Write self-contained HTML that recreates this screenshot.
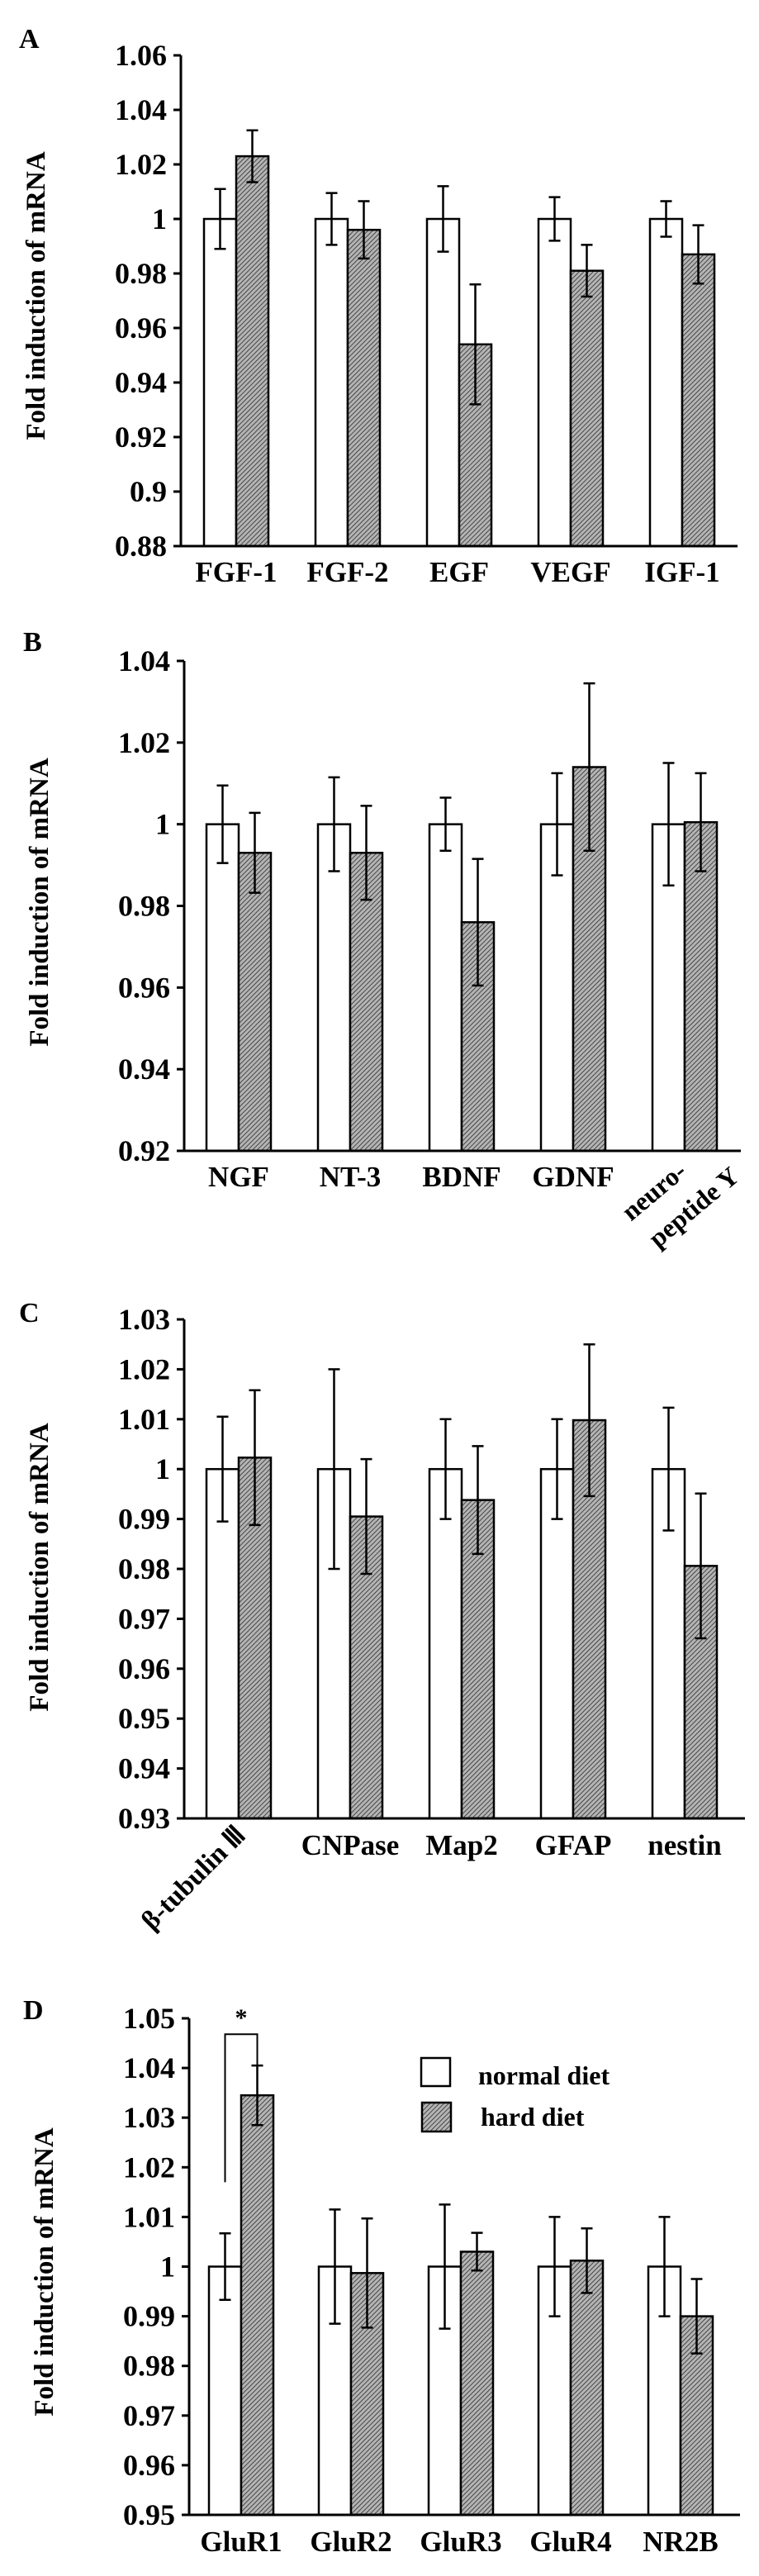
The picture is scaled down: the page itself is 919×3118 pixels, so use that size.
<!DOCTYPE html>
<html><head><meta charset="utf-8">
<style>
html,body{margin:0;padding:0;background:#fff;}
svg{display:block;}
text{font-family:"Liberation Serif",serif;font-weight:bold;fill:#000;}
</style></head>
<body>
<svg id="fig" width="919" height="3118" viewBox="0 0 919 3118" xmlns="http://www.w3.org/2000/svg">
<defs>
<pattern id="hatch" width="4" height="4" patternUnits="userSpaceOnUse" patternTransform="rotate(45)">
<rect width="4" height="4" fill="#b4b4b4"/>
<line x1="0" y1="0" x2="0" y2="4" stroke="#333" stroke-width="1.7"/>
</pattern>
</defs>
</svg>
<script>
// Panel A
const catsA = ["FGF-1","FGF-2","EGF","VEGF","IGF-1"];
const normA = [1,1,1,1,1];
const normErrA = [0.011,0.0095,0.012,0.008,0.0065];
const hardA = [1.023,0.996,0.954,0.981,0.987];
const hardErrA = [0.0095,0.0105,0.022,0.0095,0.0107];
const ticksA = ["0.88","0.9","0.92","0.94","0.96","0.98","1","1.02","1.04","1.06"];
// Panel B
const catsB = ["NGF","NT-3","BDNF","GDNF","neuro-peptide Y"];
const normB = [1,1,1,1,1];
const normErrB = [0.0095,0.0115,0.0065,0.0125,0.015];
const hardB = [0.993,0.993,0.976,1.014,1.0005];
const hardErrB = [0.0098,0.0115,0.0155,0.0205,0.012];
const ticksB = ["0.92","0.94","0.96","0.98","1","1.02","1.04"];
// Panel C
const catsC = ["β-tubulin Ⅲ","CNPase","Map2","GFAP","nestin"];
const normC = [1,1,1,1,1];
const normErrC = [0.0105,0.02,0.01,0.01,0.0123];
const hardC = [1.0023,0.9905,0.9938,1.0098,0.9806];
const hardErrC = [0.0135,0.0115,0.0108,0.0152,0.0145];
const ticksC = ["0.93","0.94","0.95","0.96","0.97","0.98","0.99","1","1.01","1.02","1.03"];
// Panel D
const catsD = ["GluR1","GluR2","GluR3","GluR4","NR2B"];
const normD = [1,1,1,1,1];
const normErrD = [0.0067,0.0115,0.0125,0.01,0.01];
const hardD = [1.0345,0.9987,1.003,1.0012,0.990];
const hardErrD = [0.006,0.011,0.0038,0.0065,0.0075];
const ticksD = ["0.95","0.96","0.97","0.98","0.99","1","1.01","1.02","1.03","1.04","1.05"];

const NS = "http://www.w3.org/2000/svg";
const svg = document.getElementById("fig");
function mk(tag, attrs, parent){
  const e = document.createElementNS(NS, tag);
  for (const k in attrs) e.setAttribute(k, attrs[k]);
  (parent||svg).appendChild(e);
  return e;
}

function panel(cfg){
  const g = mk("g", {});
  
  
  const tmin = parseFloat(cfg.ticks[0]), tmax = parseFloat(cfg.ticks[cfg.ticks.length-1]);
  const yScale = v => cfg.yBot - (v - tmin) / (tmax - tmin) * (cfg.yBot - cfg.yTop);
  const xScale = i => cfg.ax + cfg.off + i * cfg.step;
  const lt = mk("text", {x: cfg.lx, y: cfg.ly, "font-size": 34}, g);
  lt.textContent = cfg.id;
  
  
  const yt = mk("text", {x: 0, y: 0, "font-size": 33, "text-anchor": "middle",
    transform: "translate(" + (cfg.ax - 165) + "," + cfg.ytc + ") rotate(-90)"}, g);
  yt.textContent = "Fold induction of mRNA";
  
  
  const ya = mk("line", {x1: cfg.ax, y1: cfg.yTop, x2: cfg.ax, y2: cfg.yBot, stroke: "#000", "stroke-width": 3}, g);
  
  
  cfg.ticks.forEach(t => {
    const y = yScale(parseFloat(t));
    const tk = mk("line", {x1: cfg.ax - 9, y1: y, x2: cfg.ax, y2: y, stroke: "#000", "stroke-width": 3}, g);
    
    
    const tl = mk("text", {x: cfg.ax - 17, y: y + 12, "font-size": 36, "text-anchor": "end"}, g);
    tl.textContent = t;
    
    
  });
  const bw = 39;
  function bar(x, v, err, hatched, name){
    const yb = yScale(tmin), yv = yScale(v);
    const r = mk("rect", {x: x, y: Math.min(yv, yb), width: bw, height: Math.abs(yb - yv),
      fill: hatched ? "url(#hatch)" : "#fff", stroke: "#000", "stroke-width": 2.5}, g);
    
    
    const cx = x + bw / 2;
    const y1 = yScale(v + err), y2 = yScale(v - err);
    const eb = mk("path", {d: "M" + cx + " " + y1 + "V" + y2 + "M" + (cx - 7) + " " + y1 + "H" + (cx + 7) +
      "M" + (cx - 7) + " " + y2 + "H" + (cx + 7), stroke: "#000", "stroke-width": 2.5, fill: "none"}, g);
    
    
  }
  cfg.cats.forEach((c, i) => {
    const x = xScale(i);
    bar(x, cfg.norm[i], cfg.normErr[i], false, 'bar-normal-' + i);
    bar(x + bw, cfg.hard[i], cfg.hardErr[i], true, 'bar-hard-' + i);
  });
  const xa = mk("line", {x1: cfg.ax - 9, y1: cfg.yBot, x2: cfg.xEnd, y2: cfg.yBot, stroke: "#000", "stroke-width": 3}, g);
  
  
  cfg.cats.forEach((c, i) => {
    const cx = xScale(i) + bw;
    if (c === "neuro-peptide Y") {
      const a = mk("text", {x: 0, y: 0, "font-size": 32, "text-anchor": "end",
        transform: "translate(833," + (cfg.yBot + 28) + ") rotate(-40)"}, g);
      a.textContent = "neuro-";
      
      
      const b = mk("text", {x: 0, y: 0, "font-size": 32, "text-anchor": "end",
        transform: "translate(897," + (cfg.yBot + 34) + ") rotate(-40)"}, g);
      b.textContent = "peptide Y";
      
      
    } else if (c.indexOf("tubulin") >= 0) {
      const a = mk("text", {x: 0, y: 0, "font-size": 33, "text-anchor": "end",
        transform: "translate(" + (cx + 10) + "," + (cfg.yBot + 22) + ") rotate(-45)"}, g);
      a.textContent = c;
      
      
    } else {
      const t = mk("text", {x: cx, y: cfg.yBot + cfg.lblDy, "font-size": 35, "text-anchor": "middle"}, g);
      t.textContent = c;
      
      
    }
  });
  return {g, xScale, yScale, bw};
}

panel({id:"A", lx:23, ly:58, ax:219, yTop:67, yBot:661, xEnd:893, off:28, step:135, ytc:358, lblDy:43,
  cats:catsA, norm:normA, normErr:normErrA, hard:hardA, hardErr:hardErrA, ticks:ticksA});
panel({id:"B", lx:28, ly:788, ax:223, yTop:800, yBot:1393, xEnd:897, off:27, step:135, ytc:1092, lblDy:43,
  cats:catsB, norm:normB, normErr:normErrB, hard:hardB, hardErr:hardErrB, ticks:ticksB});
panel({id:"C", lx:23, ly:1600, ax:223, yTop:1597, yBot:2201, xEnd:902, off:27, step:135, ytc:1897, lblDy:44,
  cats:catsC, norm:normC, normErr:normErrC, hard:hardC, hardErr:hardErrC, ticks:ticksC});
const pd = panel({id:"D", lx:28, ly:2444, ax:229, yTop:2443, yBot:3044, xEnd:896, off:24, step:133, ytc:2750, lblDy:44,
  cats:catsD, norm:normD, normErr:normErrD, hard:hardD, hardErr:hardErrD, ticks:ticksD});

const bx1 = pd.xScale(0) + pd.bw/2, bx2 = pd.xScale(0) + pd.bw*1.5;
const br = mk("path", {d: "M" + bx1 + " " + pd.yScale(1.017) + "V" + pd.yScale(1.0468) + "H" + bx2 + "V" + pd.yScale(hardD[0] + hardErrD[0]),
  stroke: "#000", "stroke-width": 2, fill: "none"});


const st = mk("text", {x: (bx1 + bx2) / 2, y: 2452, "font-size": 30, "text-anchor": "middle"});
st.textContent = "*";



const lg = mk("g", {});


const l1 = mk("rect", {x: 510, y: 2491, width: 35, height: 34, fill: "#fff", stroke: "#000", "stroke-width": 2.5}, lg);


const l1t = mk("text", {x: 579, y: 2523, "font-size": 32}, lg);
l1t.textContent = "normal diet";


const l2 = mk("rect", {x: 511, y: 2545, width: 35, height: 35, fill: "url(#hatch)", stroke: "#000", "stroke-width": 2.5}, lg);


const l2t = mk("text", {x: 582, y: 2573, "font-size": 32}, lg);
l2t.textContent = "hard diet";


</script>
</body></html>
